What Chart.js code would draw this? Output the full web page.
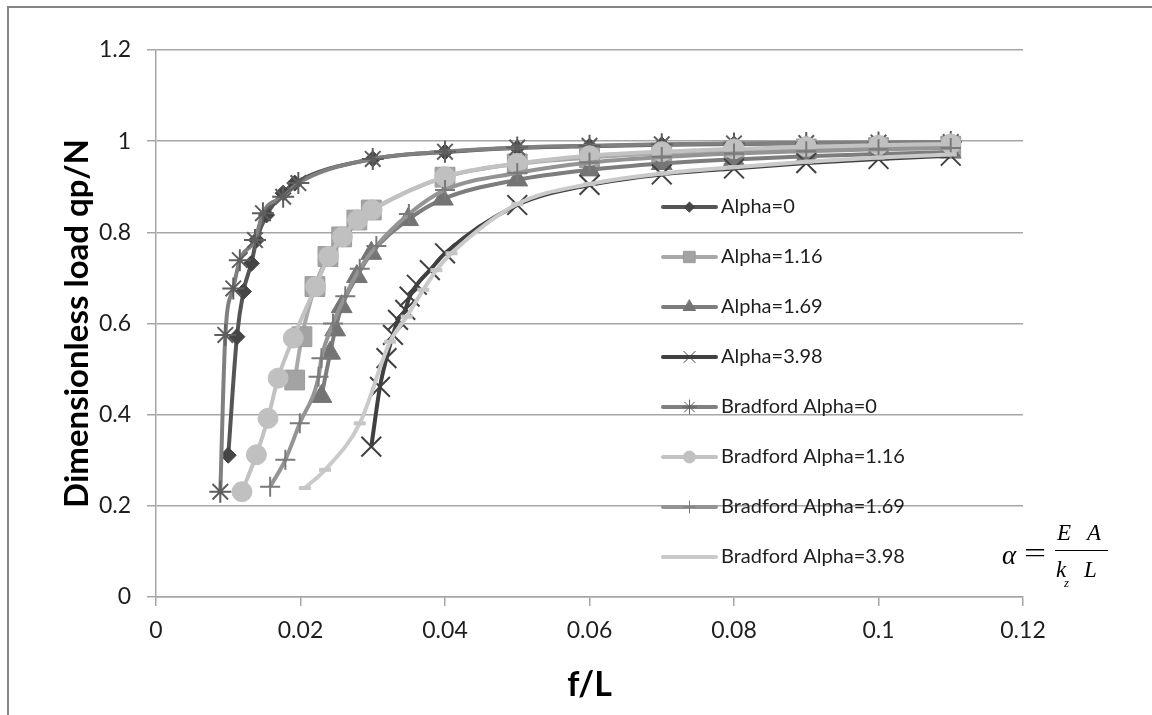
<!DOCTYPE html>
<html><head><meta charset="utf-8">
<script src="https://cdn.jsdelivr.net/npm/chart.js@4.4.1/dist/chart.umd.min.js"></script>
<style>
html,body{margin:0;padding:0;background:#fff;overflow:hidden}
#wrap{position:relative;width:1152px;height:715px}
canvas{display:block}
</style></head>
<body><div id="wrap"><canvas id="c" width="1152" height="715"></canvas></div>
<script>
// ---------- data ----------
const xTickLabels = ['0','0.02','0.04','0.06','0.08','0.1','0.12'];
const yTickLabels = ['0','0.2','0.4','0.6','0.8','1','1.2'];
const seriesLabels = ['Alpha=0','Alpha=1.16','Alpha=1.69','Alpha=3.98',
  'Bradford Alpha=0','Bradford Alpha=1.16','Bradford Alpha=1.69','Bradford Alpha=3.98'];

const alpha0X = [0.0100,0.0112,0.0121,0.0132,0.0139,0.0153,0.0176,0.0192,0.03,0.04,0.05,0.06,0.07,0.08,0.09,0.10,0.11];
const alpha0Y = [0.311,0.571,0.670,0.732,0.783,0.838,0.886,0.908,0.961,0.976,0.985,0.989,0.992,0.994,0.995,0.996,0.997];

const alpha116X = [0.0192,0.0202,0.0220,0.0238,0.0257,0.0278,0.0298,0.04,0.05,0.06,0.07,0.08,0.09,0.10,0.11];
const alpha116Y = [0.476,0.571,0.681,0.747,0.790,0.827,0.849,0.921,0.950,0.964,0.973,0.979,0.983,0.986,0.989];

const alpha169X = [0.0229,0.0241,0.0248,0.0257,0.0278,0.0298,0.0349,0.0397,0.05,0.06,0.07,0.08,0.09,0.10,0.11];
const alpha169Y = [0.440,0.535,0.586,0.637,0.703,0.754,0.828,0.873,0.915,0.937,0.951,0.960,0.967,0.972,0.976];

const alpha398X = [0.0298,0.0310,0.0319,0.0328,0.0335,0.0345,0.0351,0.0361,0.0379,0.04,0.05,0.06,0.07,0.08,0.09,0.10,0.11];
const alpha398Y = [0.330,0.461,0.524,0.575,0.608,0.630,0.659,0.685,0.717,0.754,0.860,0.904,0.927,0.940,0.952,0.961,0.968];

const brad0X = [0.0089,0.0096,0.0107,0.0116,0.0137,0.0148,0.0176,0.0197,0.03,0.04,0.05,0.06,0.07,0.08,0.09,0.10,0.11];
const brad0Y = [0.231,0.575,0.677,0.739,0.783,0.842,0.878,0.908,0.961,0.977,0.986,0.990,0.993,0.995,0.996,0.997,0.998];

const brad116X = [0.0119,0.0139,0.0155,0.0169,0.0190,0.0221,0.0239,0.0258,0.0279,0.0299,0.04,0.05,0.06,0.07,0.08,0.09,0.10,0.11];
const brad116Y = [0.231,0.312,0.392,0.480,0.568,0.681,0.747,0.790,0.827,0.849,0.922,0.951,0.968,0.977,0.983,0.988,0.991,0.994];

const brad169X = [0.0158,0.0179,0.0199,0.0225,0.0229,0.0245,0.0262,0.0282,0.0305,0.0350,0.04,0.05,0.06,0.07,0.08,0.09,0.10,0.11];
const brad169Y = [0.242,0.301,0.381,0.483,0.524,0.600,0.660,0.720,0.770,0.840,0.893,0.930,0.953,0.965,0.973,0.978,0.982,0.985];

const brad398X = [0.0206,0.0234,0.0282,0.0324,0.0347,0.0370,0.0388,0.0409,0.05,0.06,0.07,0.08,0.09,0.10,0.11];
const brad398Y = [0.239,0.279,0.381,0.560,0.615,0.674,0.717,0.754,0.862,0.906,0.929,0.943,0.955,0.964,0.971];

// ---------- build ----------
const pts = (xs, ys) => xs.map((x, i) => ({x: x, y: ys[i]}));
const seriesData = [
  pts(alpha0X, alpha0Y), pts(alpha116X, alpha116Y), pts(alpha169X, alpha169Y), pts(alpha398X, alpha398Y),
  pts(brad0X, brad0Y), pts(brad116X, brad116Y), pts(brad169X, brad169Y), pts(brad398X, brad398Y)
];
const styles = [
  {line:'#555555', fill:'#454545', stroke:'#454545', ps:'rectRot',  r:8,  bw:1, lr:5,  lbw:1},
  {line:'#a9a9a9', fill:'#a3a3a3', stroke:'#9a9a9a', ps:'rect',     r:14, bw:1, lr:8,  lbw:1},
  {line:'#7d7d7d', fill:'#747474', stroke:'#747474', ps:'triangle', r:12, bw:1, lr:7,  lbw:1},
  {line:'#404040', fill:'#404040', stroke:'#404040', ps:'crossRot', r:14, bw:2, lr:8,  lbw:1},
  {line:'#808080', fill:'#808080', stroke:'#5e5e5e', ps:'star',     r:11, bw:2, lr:7,  lbw:1},
  {line:'#c2c2c2', fill:'#c0c0c0', stroke:'#c0c0c0', ps:'circle',   r:10, bw:1, lr:6,  lbw:1},
  {line:'#949494', fill:'#808080', stroke:'#7a7a7a', ps:'cross',    r:10, bw:2, lr:6,  lbw:1},
  {line:'#cacaca', fill:'#c6c6c6', stroke:'#c6c6c6', ps:'line',     r:6,  bw:4, lr:0,  lbw:0}
];

const datasets = seriesData.map((d, i) => ({
  label: seriesLabels[i],
  data: d,
  order: 7 - i,
  borderColor: styles[i].line,
  backgroundColor: styles[i].fill,
  borderWidth: 4,
  pointStyle: styles[i].ps,
  pointRadius: styles[i].r,
  pointBorderWidth: styles[i].bw,
  pointBackgroundColor: styles[i].fill,
  pointBorderColor: styles[i].stroke,
  cubicInterpolationMode: 'monotone',
  tension: 0.4,
  fill: false,
  showLine: true
}));

const GRID = '#a6a6a6';

const framePlugin = {
  id: 'frame',
  beforeDraw(chart) {
    const ctx = chart.ctx;
    ctx.save();
    ctx.fillStyle = '#fff';
    ctx.fillRect(0, 0, chart.width, chart.height);
    ctx.fillStyle = '#858585';
    ctx.fillRect(7, 6, 2, chart.height);
    ctx.fillRect(7, 6, chart.width, 2);
    ctx.restore();
  }
};

const legendPlugin = {
  id: 'xlLegend',
  afterDraw(chart) {
    const ctx = chart.ctx;
    ctx.save();
    const x0 = 663, x1 = 716, y0 = 207, dy = 50;
    chart.data.datasets.forEach((ds, i) => {
      const y = y0 + dy * i;
      const st = styles[i];
      ctx.strokeStyle = st.line;
      ctx.lineWidth = 4;
      ctx.lineCap = 'round';
      ctx.beginPath(); ctx.moveTo(x0, y); ctx.lineTo(x1, y); ctx.stroke();
      if (st.lr > 0) {
        ctx.fillStyle = st.fill;
        ctx.strokeStyle = st.stroke;
        ctx.lineWidth = st.lbw;
        Chart.helpers.drawPoint(ctx, {pointStyle: st.ps, radius: st.lr, borderWidth: st.lbw, rotation: 0}, (x0 + x1) / 2, y);
      }
      ctx.fillStyle = '#1e1e1e';
      ctx.font = '20px Lato';
      ctx.textBaseline = 'middle';
      ctx.textAlign = 'left';
      ctx.fillText(ds.label, 721, y);
    });
    ctx.restore();
  }
};

const formulaPlugin = {
  id: 'formula',
  afterDraw(chart) {
    const ctx = chart.ctx;
    ctx.save();
    ctx.fillStyle = '#000';
    ctx.strokeStyle = '#000';
    ctx.textBaseline = 'alphabetic';
    ctx.textAlign = 'left';
    ctx.font = 'italic 27px "Liberation Serif"';
    ctx.fillText('\u03B1', 1002, 564);
    ctx.save();
    ctx.translate(1024, 562);
    ctx.scale(1.45, 1);
    ctx.font = '27px "Liberation Serif"';
    ctx.fillText('=', 0, 0);
    ctx.restore();
    ctx.lineWidth = 1;
    ctx.beginPath(); ctx.moveTo(1055, 550.5); ctx.lineTo(1108, 550.5); ctx.stroke();
    ctx.font = 'italic 23px "Liberation Serif"';
    ctx.fillText('E', 1057, 540);
    ctx.fillText('A', 1087, 540);
    ctx.fillText('k', 1056, 577);
    ctx.fillText('L', 1084, 577);
    ctx.font = 'italic 13px "Liberation Serif"';
    ctx.fillText('z', 1064, 587);
    ctx.restore();
  }
};

new Chart(document.getElementById('c'), {
  type: 'line',
  data: { datasets: datasets },
  plugins: [framePlugin, legendPlugin, formulaPlugin],
  options: {
    responsive: false,
    animation: false,
    events: [],
    layout: { padding: { left: 0, top: 50, right: 129, bottom: 0 } },
    plugins: { legend: { display: false }, tooltip: { enabled: false } },
    scales: {
      x: {
        type: 'linear',
        min: 0, max: 0.12,
        afterFit(s) { s.height = 118; },
        afterBuildTicks(s) { s.ticks = xTickLabels.map(t => ({value: parseFloat(t)})); },
        ticks: {
          callback: (v, i) => xTickLabels[i],
          font: { family: 'Lato', size: 23 },
          color: '#1e1e1e',
          padding: 11,
          maxRotation: 0, autoSkip: false
        },
        grid: { drawOnChartArea: false, drawTicks: true, tickLength: 9, color: GRID, lineWidth: 1.5 },
        border: { display: true, color: GRID, width: 1.5 },
        title: { display: true, text: 'f/L', color: '#000',
          font: { family: 'Lato', size: 34, weight: 'bold' }, padding: { top: 0, bottom: 10 } }
      },
      y: {
        type: 'linear',
        min: 0, max: 1.2,
        afterFit(s) { s.width = 156; },
        afterBuildTicks(s) { s.ticks = yTickLabels.map(t => ({value: parseFloat(t)})); },
        ticks: {
          callback: (v, i) => yTickLabels[i],
          font: { family: 'Lato', size: 23 },
          color: '#1e1e1e',
          padding: 16
        },
        grid: { drawOnChartArea: true, drawTicks: true, tickLength: 9, color: GRID, lineWidth: 1.5 },
        border: { display: true, color: GRID, width: 1.5 },
        title: { display: true, text: 'Dimensionless load qp/N', color: '#000',
          font: { family: 'Lato', size: 33, weight: 'bold' }, padding: { top: 58, bottom: 0 } }
      }
    }
  }
});
</script>
</body></html>
